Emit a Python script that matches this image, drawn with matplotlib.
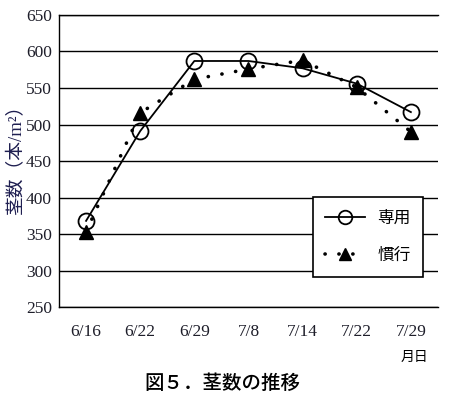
import matplotlib
matplotlib.use("Agg")
from matplotlib import pyplot as plt

# data
dates = ["6/16", "6/22", "6/29", "7/8", "7/14", "7/22", "7/29"]
senyo = [368, 491, 587, 587, 577, 556, 517]   # 専用
kanko = [353, 516, 562, 576, 588, 551, 490]   # 慣行
yticks = [250, 300, 350, 400, 450, 500, 550, 600, 650]

plt.rcParams['font.family'] = ['Liberation Serif', 'Noto Sans CJK JP']
jp = ['Noto Sans CJK JP', 'DejaVu Sans']
serif_jp = ['Liberation Serif', 'Noto Sans CJK JP', 'DejaVu Sans']

fig = plt.figure(figsize=(4.56, 4.01), dpi=100)
ax = fig.add_axes([0.1294, 0.2344, 0.831, 0.7282])

x = list(range(len(dates)))
ax.plot(x, senyo, color='black', lw=1.3, marker='o', markersize=11.5,
        markerfacecolor='none', markeredgecolor='black', markeredgewidth=1.3,
        label='専用', zorder=4)
ax.plot(x, kanko, color='black', lw=2.6, linestyle=(0, (0.05, 3.8)),
        dash_capstyle='round', marker='^', markersize=10,
        markerfacecolor='black', markeredgecolor='black',
        label='慣行', zorder=3)

ax.set_xlim(-0.5, 6.5)
ax.set_ylim(250, 650)
ax.set_yticks(yticks)
ax.set_xticks(x)
ax.set_xticklabels(dates)
ax.tick_params(length=0, labelsize=12.5, colors='#1e1e2a', pad=5)
ax.tick_params(axis='x', pad=12)
ax.grid(axis='y', color='black', lw=1)
ax.set_axisbelow(True)
ax.spines['right'].set_visible(False)
for side in ['left', 'top', 'bottom']:
    ax.spines[side].set_linewidth(1)

ax.set_ylabel('茎数（本/m²）', fontsize=13.5, color='#1e1e50', family=serif_jp)
ax.yaxis.set_label_coords(-0.09, 0.52)

leg = ax.legend(loc='upper left', bbox_to_anchor=(0.67, 0.377), borderaxespad=0,
                fancybox=False, edgecolor='black', framealpha=1, handlelength=2.4,
                handletextpad=0.7, labelspacing=1.25, borderpad=0.75, markerscale=0.85,
                prop={'family': jp, 'size': 12})
leg.get_frame().set_linewidth(1.2)

fig.text(0.91, 0.11, '月日', fontsize=10, family=jp, ha='center', va='center')
fig.text(0.487, 0.045, '図５．茎数の推移', fontsize=14, family=jp, weight='medium',
         ha='center', va='center')

fig.savefig('out.png', dpi=100)
